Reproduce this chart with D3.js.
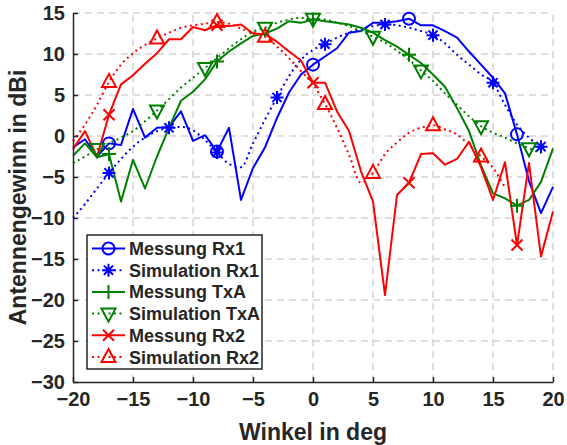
<!DOCTYPE html>
<html>
<head>
<meta charset="utf-8">
<script src="https://cdn.jsdelivr.net/npm/d3@7/dist/d3.min.js"></script>
<style>
  html, body { margin: 0; padding: 0; background: #fff; }
  svg { display: block; font-family: "Liberation Sans", Arial, sans-serif; }
</style>
</head>
<body>
<div id="chart"></div>
<script>
// angles in deg
const angleMeas = [-20,-19,-18,-17,-16,-15,-14,-13,-12,-11,-10,-9,-8,-7,-6,-5,-4,-3,-2,-1,0,1,2,3,4,5,6,7,8,9,10,11,12,13,14,15,16,17,18,19,20];

// gain values in dBi
const messRx1 = [-1.4,-0.4,-2.5,-0.9,-1.1,3.3,-0.2,1.0,1.1,3.0,-0.6,0.1,-1.9,1.0,-7.8,-3.9,-1.4,2.2,5.3,7.5,8.7,9.7,10.7,12.6,12.8,13.8,13.8,14.0,14.3,13.5,13.5,12.8,12.0,10.3,8.7,7.1,5.2,0.2,-5.5,-9.4,-6.2];
const messTxA = [-2.4,-0.9,-2.6,-2.2,-8.0,-2.9,-6.4,-2.5,1.0,4.3,5.4,6.9,9.1,10.3,11.3,12.2,12.5,13.1,14.0,13.8,14.2,14.0,13.8,13.6,13.2,12.6,11.7,10.9,9.9,8.9,7.5,6.0,3.4,0.6,-3.6,-7.0,-7.6,-8.5,-7.8,-5.6,-1.5];
const messRx2 = [-1.6,0.6,-2.5,2.6,6.3,7.4,8.8,10.1,11.8,11.8,13.3,12.9,13.5,13.4,13.6,12.5,12.4,11.5,10.3,9.2,6.5,6.5,3.0,0.6,-4.3,-8.0,-19.4,-7.2,-5.7,-2.2,-2.1,-3.5,-2.8,-0.7,-3.8,-7.8,-3.2,-13.3,-3.3,-14.7,-9.2];

const angleSimRx1 = [-20,-19,-18,-17,-16,-15,-14,-13,-12,-11,-10,-9,-8,-7,-6,-5,-4,-3,-2,-1,0,1,2,3,4,5,6,7,8,9,10,11,12,13,14,15,16,17,18,19];
const simRx1 = [-10.0,-8.3,-6.4,-4.5,-2.8,-1.3,-0.2,0.6,1.0,1.1,0.7,-0.5,-2.0,-3.4,-3.8,-0.9,2.0,4.7,7.3,9.3,10.5,11.2,12.0,12.6,13.1,13.4,13.6,13.5,13.2,12.8,12.3,11.3,9.9,8.7,7.5,6.5,3.8,1.4,-0.2,-1.3];

const angleSimTxA = [-20,-19,-18,-17,-16,-15,-14,-13,-12,-11,-10,-9,-8,-7,-6,-5,-4,-3,-2,-1,0,1,2,3,4,5,6,7,8,9,10,11,12,13,14,15,16,17,18,19];
const simTxA = [-3.3,-2.5,-1.6,-0.9,-0.2,0.6,1.8,3.1,4.5,5.9,7.1,8.3,9.5,10.7,11.8,12.7,13.2,13.8,14.2,14.4,14.3,14.2,13.8,13.4,12.8,12.1,11.4,10.4,9.3,8.0,6.7,5.2,3.8,2.4,1.2,0.4,-0.2,-0.9,-1.5,-2.1];

const angleSimRx2 = [-20,-19,-18,-17,-16,-15,-14,-13,-12,-11,-10,-9,-8,-7,-6,-5,-4,-3,-2,-1,0,1,2,3,4,5,6,7,8,9,10,11,12,13,14,15,16];
const simRx2 = [-0.6,1.4,3.8,6.6,8.7,10.1,11.1,11.9,12.6,13.2,13.5,13.7,13.9,13.7,13.1,12.6,12.1,10.9,9.5,7.9,6.3,3.9,1.0,-2.3,-5.7,-4.5,-2.2,-0.8,0.4,1.0,1.3,0.8,0.2,-1.1,-2.5,-3.9,-6.3];

// angles at which markers are drawn
const markMeas = [-17,-8,0,8,17];
const markSimRx1 = [-17,-12,-8,-3,1,6,10,15,19];
const markSimTxA = [-18,-13,-9,-4,0,5,9,14,18];
const markSimRx2 = [-17,-13,-8,-4,1,5,10,14];

const xTicks = [-20,-15,-10,-5,0,5,10,15,20];
const yTicks = [-30,-25,-20,-15,-10,-5,0,5,10,15];

const series = [
  { name: 'Messung Rx1',    x: angleMeas,   y: messRx1, color: '#0000ff', dotted: false, marker: 'circle',  marks: markMeas },
  { name: 'Simulation Rx1', x: angleSimRx1, y: simRx1,  color: '#0000ff', dotted: true,  marker: 'star',    marks: markSimRx1 },
  { name: 'Messung TxA',    x: angleMeas,   y: messTxA, color: '#008000', dotted: false, marker: 'plus',    marks: markMeas },
  { name: 'Simulation TxA', x: angleSimTxA, y: simTxA,  color: '#008000', dotted: true,  marker: 'tridown', marks: markSimTxA },
  { name: 'Messung Rx2',    x: angleMeas,   y: messRx2, color: '#ff0000', dotted: false, marker: 'cross',   marks: markMeas },
  { name: 'Simulation Rx2', x: angleSimRx2, y: simRx2,  color: '#ff0000', dotted: true,  marker: 'triup',   marks: markSimRx2 }
];

const width = 567, height = 445;
const margin = { top: 13, right: 14, bottom: 63, left: 73 };
const textColor = '#262626';

const svg = d3.select('#chart').append('svg')
  .attr('width', width)
  .attr('height', height);

const x = d3.scaleLinear().domain([-20, 20]).range([margin.left, width - margin.right]);
const y = d3.scaleLinear().domain([-30, 15]).range([height - margin.bottom, margin.top]);

// grid
const grid = svg.append('g').attr('stroke', '#d4d4d4').attr('stroke-width', 1.5).attr('stroke-dasharray', '7,5');
grid.selectAll('line.gx').data(xTicks.slice(1)).join('line')
  .attr('x1', d => x(d)).attr('x2', d => x(d))
  .attr('y1', y(-30)).attr('y2', y(15));
grid.selectAll('line.gy').data(yTicks.slice(1)).join('line')
  .attr('x1', x(-20)).attr('x2', x(20))
  .attr('y1', d => y(d)).attr('y2', d => y(d));

// data lines
const plot = svg.append('g');
series.forEach(s => {
  const pts = s.x.map((a, i) => [a, s.y[i]]);
  const line = d3.line()
    .x(d => x(d[0]))
    .y(d => y(d[1]))
    .curve(s.dotted ? d3.curveMonotoneX : d3.curveLinear);
  plot.append('path')
    .datum(pts)
    .attr('fill', 'none')
    .attr('stroke', s.color)
    .attr('stroke-width', 2)
    .attr('stroke-linejoin', 'round')
    .attr('stroke-dasharray', s.dotted ? '2,3.5' : null)
    .attr('d', line);
});

function drawMarker(g, type, cx, cy, color) {
  const m = g.append('g').attr('transform', `translate(${cx},${cy})`)
    .attr('fill', 'none').attr('stroke', color).attr('stroke-width', 2);
  if (type === 'circle') {
    m.append('circle').attr('r', 6);
  } else if (type === 'plus') {
    m.append('path').attr('d', 'M-7,0H7M0,-7V7');
  } else if (type === 'cross') {
    m.append('path').attr('d', 'M-5.5,-5.5L5.5,5.5M-5.5,5.5L5.5,-5.5');
  } else if (type === 'star') {
    m.append('path').attr('d', 'M-6.5,0H6.5M0,-6.5V6.5M-4.6,-4.6L4.6,4.6M-4.6,4.6L4.6,-4.6');
  } else if (type === 'triup') {
    m.append('path').attr('d', 'M0,-8L7,5H-7Z');
  } else if (type === 'tridown') {
    m.append('path').attr('d', 'M0,8L7,-5H-7Z');
  }
}

// markers
series.forEach(s => {
  s.marks.forEach(a => {
    const i = s.x.indexOf(a);
    drawMarker(plot, s.marker, x(a), y(s.y[i]), s.color);
  });
});

// axes
const xAxis = svg.append('g')
  .attr('transform', `translate(0,${y(-30)})`)
  .call(d3.axisBottom(x).tickValues(xTicks).tickSizeInner(-5).tickSizeOuter(0).tickPadding(10).tickFormat(d3.format('d')));
const yAxis = svg.append('g')
  .attr('transform', `translate(${x(-20)},0)`)
  .call(d3.axisLeft(y).tickValues(yTicks).tickSizeInner(-5).tickSizeOuter(0).tickPadding(8).tickFormat(d3.format('d')));

[xAxis, yAxis].forEach(ax => {
  ax.select('.domain').attr('stroke', textColor).attr('stroke-width', 1.5);
  ax.selectAll('.tick line').attr('stroke', textColor).attr('stroke-width', 1.5);
  ax.selectAll('.tick text')
    .attr('fill', textColor)
    .style('font-size', '20px')
    .style('font-weight', 'bold')
    .style('font-family', '"Liberation Sans", Arial, sans-serif');
});

// axis labels
svg.append('text')
  .attr('x', (x(-20) + x(20)) / 2)
  .attr('y', 440)
  .attr('text-anchor', 'middle')
  .attr('fill', textColor)
  .style('font-size', '23px')
  .style('font-weight', 'bold')
  .text('Winkel in deg');

svg.append('text')
  .attr('transform', `translate(26,${(y(-30) + y(15)) / 2}) rotate(-90)`)
  .attr('text-anchor', 'middle')
  .attr('fill', textColor)
  .style('font-size', '23px')
  .style('font-weight', 'bold')
  .text('Antennengewinn in dBi');

// legend
const legend = svg.append('g');
legend.append('rect')
  .attr('x', 87).attr('y', 235)
  .attr('width', 175).attr('height', 134)
  .attr('fill', '#fff')
  .attr('stroke', textColor)
  .attr('stroke-width', 1.5);

series.forEach((s, i) => {
  const cy = 248.5 + i * 21.7;
  legend.append('line')
    .attr('x1', 92).attr('x2', 125)
    .attr('y1', cy).attr('y2', cy)
    .attr('stroke', s.color)
    .attr('stroke-width', 2)
    .attr('stroke-dasharray', s.dotted ? '2,3.5' : null);
  drawMarker(legend, s.marker, 108.5, cy, s.color);
  legend.append('text')
    .attr('x', 129)
    .attr('y', cy + 6.5)
    .attr('fill', textColor)
    .style('font-size', '18px')
    .style('font-weight', 'bold')
    .text(s.name);
});
</script>
</body>
</html>
